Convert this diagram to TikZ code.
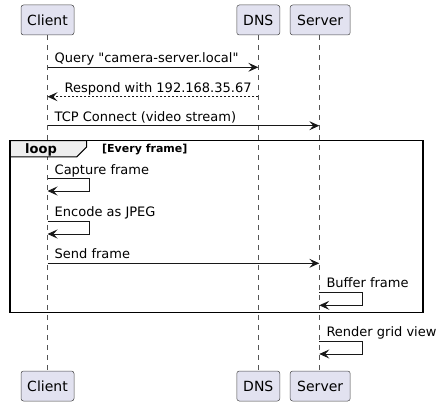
\documentclass[tikz,border=0pt]{standalone}
\usepackage{fontspec}
\setmainfont{DejaVu Sans}[Ligatures=TeXOff]
\usetikzlibrary{arrows.meta}
\definecolor{partfill}{HTML}{E2E2F0}
\definecolor{partline}{HTML}{181818}
\definecolor{lifeline}{HTML}{555555}
\definecolor{tabfill}{HTML}{EEEEEE}
\begin{document}
\begin{tikzpicture}[x=1pt,y=-1pt,
  part/.style={draw=partline!80, fill=partfill, rounded corners=2.5pt, minimum height=30pt, inner xsep=0pt, inner ysep=0pt, font=\fontsize{14}{16}\selectfont, line width=0.5pt},
  life/.style={draw=lifeline, dash pattern=on 5pt off 5pt, line width=0.45pt},
  msg/.style={draw=partline, line width=0.9pt, -{Stealth[length=10pt,width=9pt,inset=4pt]}},
  rmsg/.style={msg, dash pattern=on 2pt off 2pt},
  lbl/.style={font=\fontsize{13}{15}\selectfont, anchor=base west, inner sep=0pt},
  frame/.style={draw=black, line width=1.5pt}]
\useasboundingbox (0,0) rectangle (444,406);

% participants
\node[part, minimum width=53pt] (ct) at (47.5,20) {Client};
\node[part, minimum width=43pt] (dt) at (258.3,20) {DNS};
\node[part, minimum width=60pt] (st) at (320.2,20) {Server};
\node[part, minimum width=53pt] (cb) at (47.5,386) {Client};
\node[part, minimum width=43pt] (db) at (258.3,386) {DNS};
\node[part, minimum width=60pt] (sb) at (320.2,386) {Server};

% lifelines
\coordinate (c) at (47.5,0);
\coordinate (d) at (258.3,0);
\coordinate (s) at (319.3,0);
\draw[life] (c |- ct.south) -- (c |- cb.north);
\draw[life] (d |- dt.south) -- (d |- db.north);
\draw[life] (s |- st.south) -- (s |- sb.north);

% loop frame
\draw[draw=black, fill=tabfill, line width=1pt] (10,140.7) -- (86.7,140.7) -- (86.7,147) -- (76.7,157) -- (10,157) -- cycle;
\draw[frame] (10,140.7) rectangle (423,312.7);
\node[font=\bfseries\fontsize{13}{15}\selectfont, anchor=base west, inner sep=0pt] (looplbl) at (25,154) {loop};
\node[font=\bfseries\fontsize{11}{13}\selectfont, anchor=base west, inner sep=0pt] (guard) at (102,152.5) {[Every frame]};

% messages
\coordinate (m1a) at (c |- 0,67.3);  \coordinate (m1b) at (d |- 0,67.3);
\draw[msg] (m1a) -- (m1b);
\node[lbl] (t1) at (54.5,63) {Query "camera-server.local"};

\coordinate (m2a) at (d |- 0,96.7);  \coordinate (m2b) at (c |- 0,96.7);
\draw[rmsg] (m2a) -- (m2b);
\node[lbl] (t2) at (64.5,92.3) {Respond with 192.168.35.67};

\coordinate (m3a) at (c |- 0,125.7); \coordinate (m3b) at (s |- 0,125.7);
\draw[msg] (m3a) -- (m3b);
\node[lbl] (t3) at (54.5,121.3) {TCP Connect (video stream)};

\coordinate (m4a) at (c |- 0,178.7); \coordinate (m4b) at (c |- 0,191);
\draw[msg] (m4a) -- (89.3,178.7) -- (89.3,191) -- (m4b);
\node[lbl] (t4) at (54.5,174.3) {Capture frame};

\coordinate (m5a) at (c |- 0,221); \coordinate (m5b) at (c |- 0,234);
\draw[msg] (m5a) -- (89.3,221) -- (89.3,234) -- (m5b);
\node[lbl] (t5) at (54.5,216.6) {Encode as JPEG};

\coordinate (m6a) at (c |- 0,263.3); \coordinate (m6b) at (s |- 0,263.3);
\draw[msg] (m6a) -- (m6b);
\node[lbl] (t6) at (54.5,258.9) {Send frame};

\coordinate (m7a) at (s |- 0,292.3); \coordinate (m7b) at (s |- 0,305.3);
\draw[msg] (m7a) -- (362.3,292.3) -- (362.3,305.3) -- (m7b);
\node[lbl] (t7) at (326.3,287.9) {Buffer frame};

\coordinate (m8a) at (s |- 0,341); \coordinate (m8b) at (s |- 0,354);
\draw[msg] (m8a) -- (362.3,341) -- (362.3,354) -- (m8b);
\node[lbl] (t8) at (326.3,336.6) {Render grid view};
\end{tikzpicture}
\end{document}
